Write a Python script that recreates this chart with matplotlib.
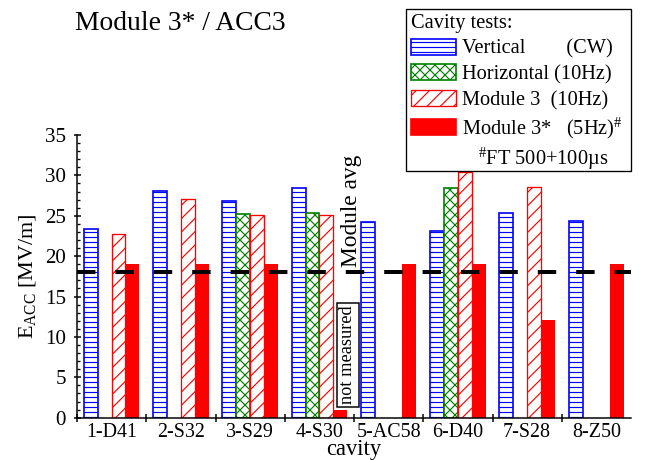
import matplotlib
matplotlib.use('Agg')
import matplotlib.pyplot as plt
import numpy as np
from matplotlib.patches import Patch
from matplotlib.ticker import MultipleLocator

# values (MV/m), nan = not tested
cavities = ['1-D41', '2-S32', '3-S29', '4-S30', '5-AC58', '6-D40', '7-S28', '8-Z50']
vertical = [23.4, 28.1, 26.8, 28.5, 24.2, 23.1, 25.4, 24.4]
horizontal = [np.nan, np.nan, 25.2, 25.4, np.nan, 28.4, np.nan, np.nan]
module3 = [22.8, 27.1, 25.1, 25.1, np.nan, 30.4, 28.6, np.nan]
module3_star = [19.0, 19.0, 19.0, 1.0, 19.0, 19.0, 12.1, 19.0]
module_avg = 18.0

plt.rcParams['font.family'] = ['Liberation Serif', 'DejaVu Serif']
plt.rcParams['mathtext.fontset'] = 'custom'
plt.rcParams['mathtext.rm'] = 'Liberation Serif'
plt.rcParams['mathtext.it'] = 'Liberation Serif:italic'
plt.rcParams['hatch.linewidth'] = 0.7

W, H, DPI = 645, 460, 120
fig = plt.figure(figsize=(W / DPI, H / DPI), dpi=DPI)
ax = fig.add_axes([77 / W, 1 - 417.7 / H, 554 / W, 282.7 / H])

x = np.arange(len(cavities))
bw = 0.2
blue, green, red = '#0000ff', '#008000', '#ff0000'

ax.bar(x - 0.3, vertical, bw, facecolor='white', edgecolor=blue, hatch='----', linewidth=1.0)
ax.bar(x - 0.1, horizontal, bw, facecolor='white', edgecolor=green, hatch='xxxx', linewidth=1.0)
ax.bar(x + 0.1, module3, bw, facecolor='white', edgecolor=red, hatch='///', linewidth=0.8)
ax.bar(x + 0.3, module3_star, bw, color=red, linewidth=0)

ax.axhline(module_avg, color='black', lw=2.4, dashes=(4.6, 5.0),
           dash_capstyle='butt', zorder=5)

ax.text(3.47, 18.6, 'Module avg', rotation=90, ha='center', va='bottom', fontsize=14)
ax.text(3.41, 7.8, 'not measured', rotation=90, ha='center', va='center', fontsize=11,
        bbox=dict(boxstyle='square,pad=0.15', fc='white', ec='black', lw=0.9))

ax.set_xlim(-0.5, 7.5)
ax.set_ylim(0, 35)
ax.spines['top'].set_visible(False)
ax.spines['right'].set_visible(False)
for s in ('left', 'bottom'):
    ax.spines[s].set_linewidth(0.9)

# ticks at the group boundaries, labels centred on the groups
ax.set_xticks(np.arange(-0.5, 7))
ax.set_xticklabels([])
ax.set_xticks(x, minor=True)
ax.set_xticklabels(cavities, minor=True)
ax.tick_params(axis='x', which='major', direction='inout', length=4.8, width=0.9)
ax.tick_params(axis='x', which='minor', length=0, pad=3.4, labelsize=12)

ax.set_yticks(np.arange(0, 36, 5))
ax.yaxis.set_minor_locator(MultipleLocator(1))
ax.tick_params(axis='y', which='major', direction='inout', length=4.2, width=0.9,
               labelsize=12.6, pad=4.5)
ax.tick_params(axis='y', which='minor', direction='in', length=1.8, width=0.8)

ax.set_ylabel(r'E$_{\mathrm{ACC}}$ [MV/m]', fontsize=13.3)
ax.yaxis.set_label_coords(-0.0705, 0.5)
ax.set_xlabel('cavity', fontsize=13.5)
ax.xaxis.set_label_coords(0.5, -0.075)

fig.text(75 / W, 1 - 30 / H, 'Module 3* / ACC3', fontsize=16.5, ha='left', va='baseline')

handles = [
    Patch(facecolor='white', edgecolor=blue, hatch='----', linewidth=1.0),
    Patch(facecolor='white', edgecolor=green, hatch='xxxx', linewidth=1.0),
    Patch(facecolor='white', edgecolor=red, hatch='///', linewidth=0.8),
    Patch(facecolor=red, edgecolor=red),
    Patch(facecolor='none', edgecolor='none'),
]
labels = [
    'Vertical        (CW)',
    'Horizontal (10Hz)',
    'Module 3  (10Hz)',
    r'Module 3*   (5Hz)$^{\#}$',
    ' ' * 32,  # blank row (holds the footnote), also sets the box width
]
leg = fig.legend(handles, labels, loc='upper right', bbox_to_anchor=(631 / W, 1 - 9 / H),
                 borderaxespad=0, fancybox=False, edgecolor='black', framealpha=1,
                 title='Cavity tests:', alignment='left', fontsize=12.2,
                 title_fontsize=12.2, handlelength=2.2, handleheight=0.85,
                 handletextpad=0.3, labelspacing=0.27, borderpad=0.25)
leg.get_frame().set_linewidth(0.8)
fig.text(478 / W, 1 - 165 / H, r'$^{\#}$FT 500+100µs', fontsize=12.2,
         ha='left', va='baseline', zorder=6)

fig.savefig('out.png', dpi=DPI)
